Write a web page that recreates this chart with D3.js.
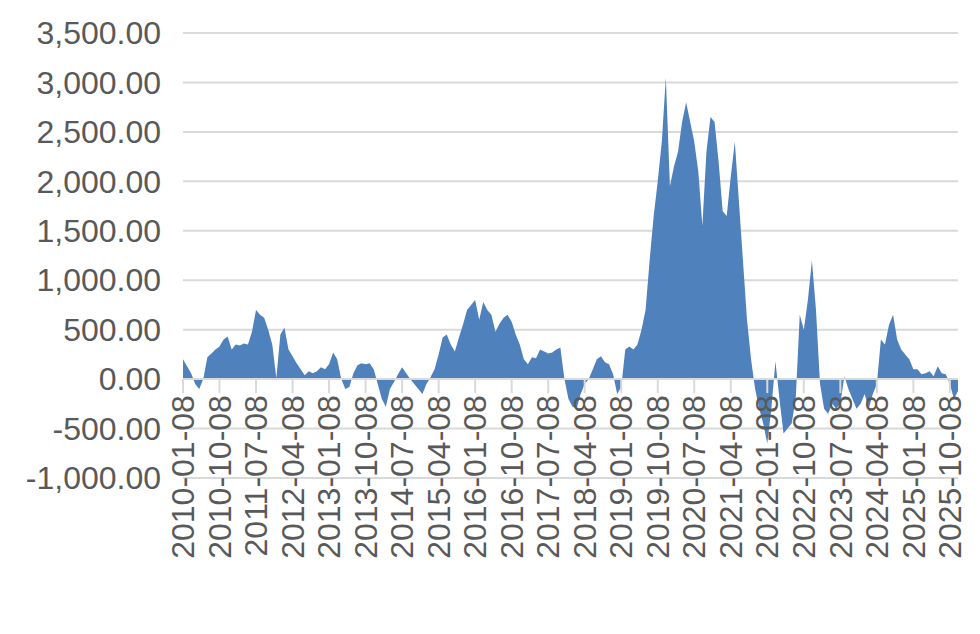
<!DOCTYPE html><html><head><meta charset="utf-8"><script src="https://cdn.jsdelivr.net/npm/d3@7"></script>
<style>body{margin:0;background:#fff}</style></head><body><svg id="c" width="980" height="634"></svg><script>
const startMonth="2010-01-08";
const values=[200,130,60,-50,-100,0,220,260,300,330,400,430,
300,350,340,360,350,480,700,650,620,500,350,10,
450,520,300,230,160,100,40,80,60,80,120,100,
150,270,200,0,-100,-80,60,140,160,150,160,100,
-50,-200,-280,-100,-30,50,120,60,0,-50,-100,-150,
-50,20,100,250,420,450,350,280,420,550,700,750,
800,600,780,700,650,480,560,620,650,580,450,350,
200,150,220,210,300,280,260,270,300,320,0,-200,
-280,-300,-150,-50,0,100,200,230,170,150,50,-150,
-80,300,330,300,350,500,700,1200,1650,2000,2400,3050,
1950,2150,2300,2600,2800,2600,2400,2100,1550,2300,2650,2600,
2200,1700,1650,2050,2400,1800,1200,600,200,-100,-300,-450,
-650,-300,180,-200,-550,-500,-450,-200,650,500,800,1200,
700,-50,-300,-350,-250,-300,-250,30,-100,-200,-300,-250,
-150,-300,-150,-50,400,350,550,650,400,300,250,200,
100,100,50,60,80,30,130,60,50,-50,-200,-120];
const yTicks=[-1000,-500,0,500,1000,1500,2000,2500,3000,3500];
const tickLabels=["2010-01-08","2010-10-08","2011-07-08","2012-04-08","2013-01-08","2013-10-08","2014-07-08","2015-04-08","2016-01-08","2016-10-08","2017-07-08","2018-04-08","2019-01-08","2019-10-08","2020-07-08","2021-04-08","2022-01-08","2022-10-08","2023-07-08","2024-04-08","2025-01-08","2025-10-08"];
const svg=d3.select("#c");
const x=d3.scaleLinear().domain([0,values.length-1]).range([183,958]);
const y=d3.scaleLinear().domain([-1000,3500]).range([478,33]);
const fmt=v=>d3.format(",.2f")(v).replace("−","-");
const FS=32;
svg.append("g").selectAll("line").data(yTicks).join("line")
 .attr("x1",183).attr("x2",958).attr("y1",d=>y(d)).attr("y2",d=>y(d))
 .attr("stroke","#d9d9d9").attr("stroke-width",2);
svg.append("g").selectAll("text").data(yTicks).join("text")
 .attr("x",161).attr("y",d=>y(d)).attr("dy","0.35em").attr("text-anchor","end")
 .attr("font-family","Liberation Sans, Arial").attr("font-size",FS).attr("fill","#595959")
 .text(d=>fmt(d));
const area=d3.area().x((d,i)=>x(i)).y0(y(0)).y1(d=>y(d)).curve(d3.curveLinear);
svg.append("path").datum(values).attr("d",area).attr("fill","#4f81bd");
svg.append("line").attr("x1",183).attr("x2",958).attr("y1",y(0)).attr("y2",y(0)).attr("stroke","#d9d9d9").attr("stroke-width",2);
const xt=tickLabels.map((l,i)=>i*9);
svg.append("g").selectAll("line").data(xt).join("line")
 .attr("x1",d=>x(d)).attr("x2",d=>x(d)).attr("y1",y(0)).attr("y2",y(0)+14)
 .attr("stroke","#d9d9d9").attr("stroke-width",2);
svg.append("g").selectAll("text").data(tickLabels).join("text")
 .attr("transform",(d,i)=>`translate(${x(i*9)},${y(0)+16}) rotate(-90)`)
 .attr("dy","0.35em")
 .attr("text-anchor","end").attr("font-family","Liberation Sans, Arial").attr("font-size",FS).attr("fill","#595959")
 .text(d=>d);
</script></body></html>
